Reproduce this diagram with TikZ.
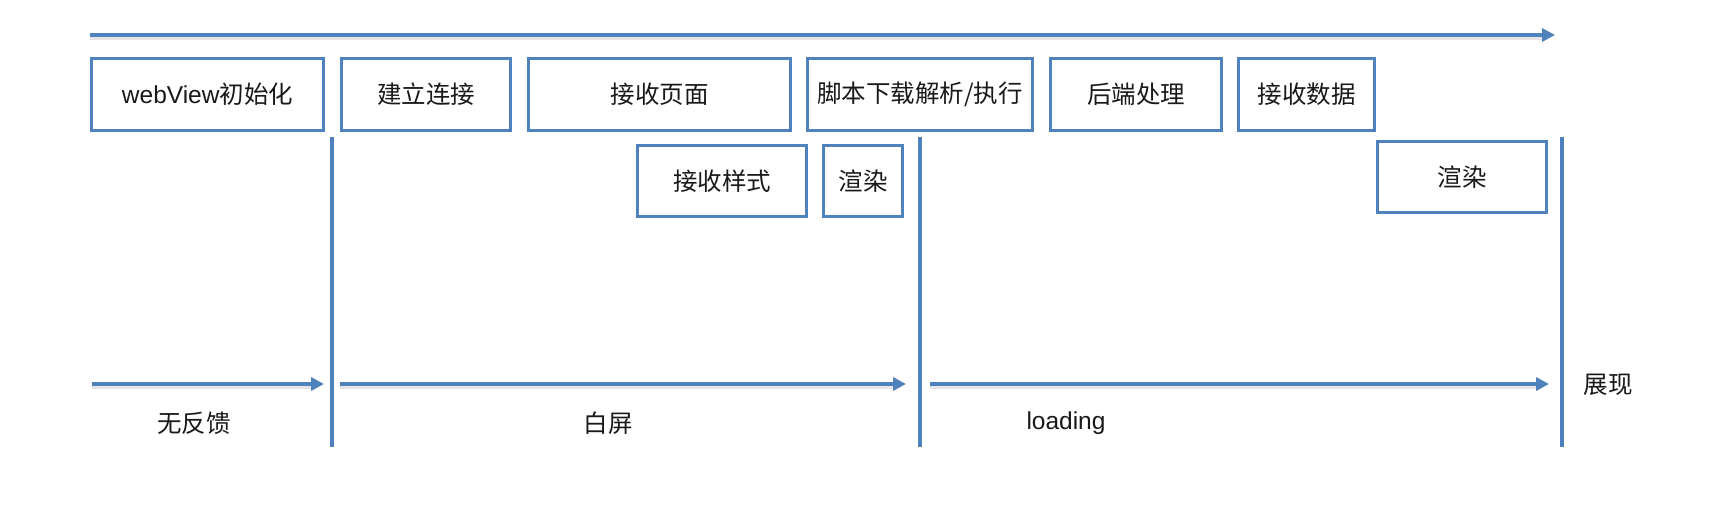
\documentclass[tikz,border=0pt]{standalone}
\usepackage{fontspec}
\setmainfont{Noto Sans CJK SC}
\newfontfamily\lat{Liberation Sans}
\usetikzlibrary{arrows.meta}
\definecolor{lineblue}{RGB}{79,129,189}
\definecolor{txt}{RGB}{25,25,25}
\tikzset{
  box/.style={draw=lineblue, line width=3.5pt, fill=white, inner sep=0pt,
    minimum height=72pt, font=\fontsize{24.5}{29}\selectfont, text=txt},
  arr/.style={draw=lineblue, line width=3.5pt, -{Triangle[length=13pt,width=13pt]}},
  vline/.style={draw=lineblue, line width=3.5pt},
  shade/.style={draw=black, opacity=0.10, line width=4pt, transform canvas={yshift=-3pt}},
  lbl/.style={font=\fontsize{24.5}{29}\selectfont, text=txt, inner sep=0pt},
}
\begin{document}
\begin{tikzpicture}[x=1pt,y=-1pt]
\useasboundingbox (0,0) rectangle (1732,508);
\fill[white] (0,0) rectangle (1732,508);
% coordinates
\coordinate (ts) at (90,35);
\coordinate (te) at (1555,35);
\coordinate (a1s) at (92,384);
\coordinate (a1e) at (324,384);
\coordinate (a2s) at (340,384);
\coordinate (a2e) at (906,384);
\coordinate (a3s) at (930,384);
\coordinate (a3e) at (1549,384);
\coordinate (v1t) at (332,137);
\coordinate (v1b) at (332,447);
\coordinate (v2t) at (920,137);
\coordinate (v2b) at (920,447);
\coordinate (v3t) at (1562,137);
\coordinate (v3b) at (1562,447);
% shadows
\draw[shade] (ts) -- ([xshift=-12pt]te);
\draw[shade] (a1s) -- ([xshift=-12pt]a1e);
\draw[shade] (a2s) -- ([xshift=-12pt]a2e);
\draw[shade] (a3s) -- ([xshift=-12pt]a3e);
% arrows
\draw[arr] (ts) -- (te);
\draw[arr] (a1s) -- (a1e);
\draw[arr] (a2s) -- (a2e);
\draw[arr] (a3s) -- (a3e);
% vertical lines
\draw[vline] (v1t) -- (v1b);
\draw[vline] (v2t) -- (v2b);
\draw[vline] (v3t) -- (v3b);
% top row boxes
\node[box, minimum width=232pt] (b1) at (207.5,94.5) {{\lat webView}初始化};
\node[box, minimum width=169pt] (b2) at (426,94.5) {建立连接};
\node[box, minimum width=262pt] (b3) at (659.5,94.5) {接收页面};
\node[box, minimum width=225pt] (b4) at (920,94.5) {脚本下载解析/执行};
\node[box, minimum width=171pt] (b5) at (1136,94.5) {后端处理};
\node[box, minimum width=136pt] (b6) at (1306.5,94.5) {接收数据};
% second row boxes
\node[box, minimum width=169pt, minimum height=71pt] (b7) at (722,181) {接收样式};
\node[box, minimum width=79pt, minimum height=71pt] (b8) at (863,181) {渲染};
\node[box, minimum width=169pt, minimum height=71pt] (b9) at (1462,177) {渲染};
% labels
\node[lbl] (l1) at (194,423) {无反馈};
\node[lbl] (l2) at (608,423) {白屏};
\node[lbl] (l3) at (1066,423) {\lat loading};
\node[lbl] (l4) at (1608,385) {展现};
\end{tikzpicture}
\end{document}
